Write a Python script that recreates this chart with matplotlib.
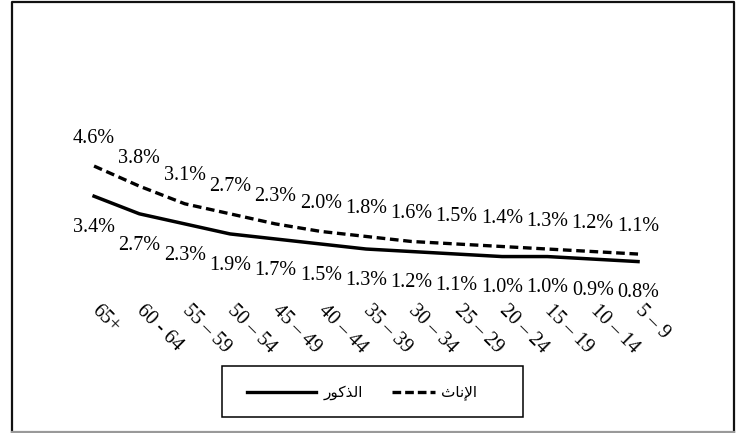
import matplotlib.pyplot as plt
from matplotlib.lines import Line2D
from matplotlib.patches import Rectangle

age_groups = ['65+', '60 - 64', '55 – 59', '50 – 54', '45 – 49', '40 – 44', '35 – 39',
              '30 – 34', '25 – 29', '20 – 24', '15 – 19', '10 – 14', '5 – 9']
females = [4.6, 3.8, 3.1, 2.7, 2.3, 2.0, 1.8, 1.6, 1.5, 1.4, 1.3, 1.2, 1.1]
males = [3.4, 2.7, 2.3, 1.9, 1.7, 1.5, 1.3, 1.2, 1.1, 1.0, 1.0, 0.9, 0.8]

# matplotlib has no Arabic shaping, so the names are written in presentation forms, visual order
label_females = '\uFE99\uFE8E\uFEE7\uFEF9\uFE8D'   # الإناث
label_males = '\uFEAD\uFEEE\uFEDB\uFEAC\uFEDF\uFE8D'   # الذكور

W, H = 737, 433
fig = plt.figure(figsize=(W / 100, H / 100), dpi=100)
ax = fig.add_axes([71.4 / W, (H - 281.7) / H, 589.3 / W, 125.7 / H])

x = list(range(len(age_groups)))
ax.plot(x, females, color='black', lw=2.4, ls=(0, (2.6, 1.4)), solid_capstyle='butt')
ax.plot(x, males, color='black', lw=2.5, solid_joinstyle='round')

serif = 'Liberation Serif'
fs = 14.5
for i in x:
    ax.annotate(f'{females[i]:.1f}%', (i, females[i]), xytext=(0, 20), textcoords='offset points',
                ha='center', va='center', fontsize=fs, family=serif)
    ax.annotate(f'{males[i]:.1f}%', (i, males[i]), xytext=(0, -22.5), textcoords='offset points',
                ha='center', va='center', fontsize=fs, family=serif)

ax.set_xlim(-0.5, len(age_groups) - 0.5)
ax.set_ylim(0, 5)
ax.set_xticks(x)
ax.set_xticklabels(age_groups, rotation=-45, rotation_mode='anchor', ha='left', va='center',
                   fontsize=fs, family=serif)
ax.tick_params(axis='x', length=0, pad=19)
ax.set_yticks([])
for s in ax.spines.values():
    s.set_visible(False)
ax.patch.set_visible(False)

# outer frame
fx0, fx1 = 11.5 / W, 733.5 / W
fy0, fy1 = 1 - 431.5 / H, 1 - 1.5 / H
fig.add_artist(Line2D([fx0, fx0, fx1, fx1], [fy0, fy1, fy1, fy0], color='#111111', lw=1.6))
fig.add_artist(Line2D([fx0, fx1], [fy0, fy0], color='#999999', lw=1.6))

# legend box
fig.add_artist(Rectangle((222 / W, 1 - 417 / H), 301 / W, 51 / H, fill=False,
                         edgecolor='black', lw=1.1))
ly = 1 - 392 / H
fig.add_artist(Line2D([247 / W, 316 / W], [ly, ly], color='black', lw=2.4))
fig.text(324 / W, ly, label_males, ha='left', va='center', fontsize=11,
         family=['DejaVu Sans'])
fig.add_artist(Line2D([392 / W, 435 / W], [ly, ly], color='black', lw=2.4,
                      ls=(0, (2.6, 1.2))))
fig.text(441 / W, ly, label_females, ha='left', va='center', fontsize=11,
         family=['DejaVu Sans'])

fig.savefig('out.png', dpi=100)
